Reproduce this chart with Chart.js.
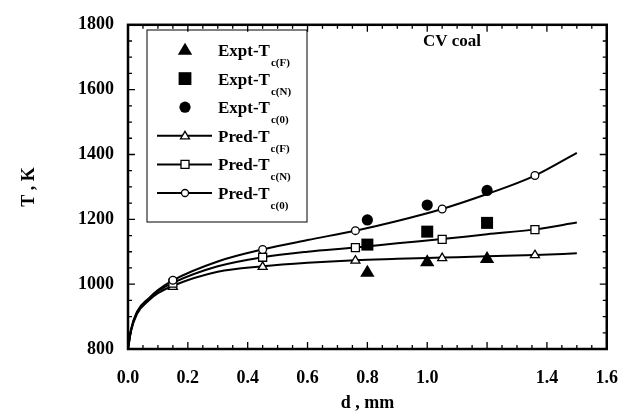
<!DOCTYPE html>
<html>
<head>
<meta charset="utf-8">
<script src="https://cdn.jsdelivr.net/npm/chart.js@4/dist/chart.umd.min.js"></script>
<style>
  html, body { margin: 0; padding: 0; background: #fff; }
  #wrap { width: 637px; height: 416px; }
</style>
</head>
<body>
<div id="wrap"><canvas id="tempChart" width="637" height="416"></canvas></div>
<script>
// ---- data ----
// measured points
const exptD = [0.8, 1.0, 1.2];
const exptTF = [1038, 1070, 1080];
const exptTN = [1122, 1162, 1189];
const exptT0 = [1198, 1244, 1289];

// predicted markers
const predD = [0.15, 0.45, 0.76, 1.05, 1.36];
const predTF = [993, 1055, 1074, 1082, 1091];
const predTN = [1003, 1083, 1113, 1138, 1168];
const predT0 = [1012, 1107, 1165, 1232, 1335];

// predicted curves (traced)
const curveD = [0, 0.01, 0.03, 0.07, 0.1, 0.15, 0.3, 0.45, 0.6, 0.76, 0.9, 1.05, 1.2, 1.36, 1.5];
const curveTF = [800, 855, 908, 950, 972, 995, 1038, 1055, 1066, 1074, 1078, 1082, 1086, 1090, 1095];
const curveTN = [800, 858, 912, 953, 978, 1004, 1055, 1083, 1100, 1113, 1126, 1139, 1154, 1169, 1190];
const curveT0 = [800, 860, 915, 957, 982, 1012, 1070, 1107, 1136, 1165, 1195, 1232, 1278, 1335, 1405];

const xTickLabels = ["0.0", "0.2", "0.4", "0.6", "0.8", "1.0", "", "1.4", "1.6"];
const yTickLabels = ["800", "1000", "1200", "1400", "1600", "1800"];

const legendNames = ["Expt-T", "Expt-T", "Expt-T", "Pred-T", "Pred-T", "Pred-T"];
const legendSubs = ["c(F)", "c(N)", "c(0)", "c(F)", "c(N)", "c(0)"];
const legendStyles = ["triangle", "rect", "circle", "triangle", "rect", "circle"];

const serif = "'Liberation Serif', 'DejaVu Serif', serif";

function pts(xs, ys) {
  return xs.map((x, i) => ({ x: x, y: ys[i] }));
}

// draw a marker shape (own helper so legend and plot look alike)
function drawMarker(ctx, style, x, y, r, filled) {
  ctx.beginPath();
  if (style === "triangle") {
    const h = r * 1.5;
    ctx.moveTo(x, y - h * 0.6);
    ctx.lineTo(x + r * 0.9, y + h * 0.4);
    ctx.lineTo(x - r * 0.9, y + h * 0.4);
    ctx.closePath();
  } else if (style === "rect") {
    ctx.rect(x - r * 0.8, y - r * 0.8, r * 1.6, r * 1.6);
  } else {
    ctx.arc(x, y, r * 0.7, 0, Math.PI * 2);
  }
  if (filled) {
    ctx.fillStyle = "#000";
    ctx.fill();
  } else {
    ctx.fillStyle = "#fff";
    ctx.fill();
    ctx.lineWidth = 1.3;
    ctx.strokeStyle = "#000";
    ctx.stroke();
  }
}

// frame + inward ticks on all four sides
const framePlugin = {
  id: "frameTicks",
  afterDraw(chart) {
    const ctx = chart.ctx;
    const a = chart.chartArea;
    const xs = chart.scales.x, ys = chart.scales.y;
    ctx.save();
    ctx.strokeStyle = "#000";
    ctx.lineWidth = 1.3;
    for (let i = 0; i <= 32; i++) {
      const v = i * 0.05;
      const px = xs.getPixelForValue(v);
      const len = i % 4 === 0 ? 7 : 4;
      ctx.beginPath();
      ctx.moveTo(px, a.bottom); ctx.lineTo(px, a.bottom - len);
      ctx.moveTo(px, a.top); ctx.lineTo(px, a.top + len);
      ctx.stroke();
    }
    for (let i = 0; i <= 20; i++) {
      const v = 800 + i * 50;
      const py = ys.getPixelForValue(v);
      const len = i % 4 === 0 ? 7 : 4;
      ctx.beginPath();
      ctx.moveTo(a.left, py); ctx.lineTo(a.left + len, py);
      ctx.moveTo(a.right, py); ctx.lineTo(a.right - len, py);
      ctx.stroke();
    }
    ctx.lineWidth = 2.5;
    ctx.strokeRect(a.left, a.top, a.right - a.left, a.bottom - a.top);

    // label inside plot
    ctx.fillStyle = "#000";
    ctx.font = "bold 17px " + serif;
    ctx.textAlign = "left";
    ctx.textBaseline = "middle";
    ctx.fillText("CV coal", 423, 42);

    // legend box
    const lx = 147, ly = 30, lw = 160, lh = 192;
    ctx.lineWidth = 1;
    ctx.strokeRect(lx, ly, lw, lh);
    legendNames.forEach((name, i) => {
      const cy = 50 + i * 28.6;
      const isPred = i >= 3;
      if (isPred) {
        ctx.lineWidth = 2;
        ctx.beginPath();
        ctx.moveTo(157, cy); ctx.lineTo(212, cy);
        ctx.stroke();
        drawMarker(ctx, legendStyles[i], 185, cy, 5, false);
      } else {
        drawMarker(ctx, legendStyles[i], 185, cy, 8, true);
      }
      ctx.fillStyle = "#000";
      ctx.textBaseline = "alphabetic";
      ctx.font = "bold 17px " + serif;
      ctx.fillText(name, 218, cy + 6);
      const w = ctx.measureText(name).width;
      ctx.font = "bold 11px " + serif;
      ctx.fillText(legendSubs[i], 218 + w + 1, cy + 16);
    });
    ctx.restore();
  }
};

// markers drawn with own helper so shapes match the legend
const markerPlugin = {
  id: "markers",
  afterDatasetsDraw(chart) {
    const ctx = chart.ctx;
    ctx.save();
    chart.data.datasets.forEach((ds, di) => {
      if (!ds.markerStyle) return;
      const meta = chart.getDatasetMeta(di);
      meta.data.forEach(el => {
        drawMarker(ctx, ds.markerStyle, el.x, el.y, ds.markerSize, ds.filled);
      });
    });
    ctx.restore();
  }
};

function curveSet(label, data) {
  return {
    label: label,
    data: pts(curveD, data),
    borderColor: "#000",
    borderWidth: 2,
    pointRadius: 0,
    cubicInterpolationMode: "monotone",
    showLine: true,
    fill: false
  };
}

function markerSet(label, xs, ys, style, size, filled) {
  return {
    label: label,
    data: pts(xs, ys),
    showLine: false,
    pointRadius: 0,
    markerStyle: style,
    markerSize: size,
    filled: filled
  };
}

const ctx = document.getElementById("tempChart").getContext("2d");

let tempChart = new Chart(ctx, {
  type: "scatter",
  data: {
    datasets: [
      curveSet("curve F", curveTF),
      curveSet("curve N", curveTN),
      curveSet("curve 0", curveT0),
      markerSet("Pred-Tc(F)", predD, predTF, "triangle", 5, false),
      markerSet("Pred-Tc(N)", predD, predTN, "rect", 5, false),
      markerSet("Pred-Tc(0)", predD, predT0, "circle", 5.5, false),
      markerSet("Expt-Tc(F)", exptD, exptTF, "triangle", 8, true),
      markerSet("Expt-Tc(N)", exptD, exptTN, "rect", 7.5, true),
      markerSet("Expt-Tc(0)", exptD, exptT0, "circle", 8, true)
    ]
  },
  options: {
    responsive: false,
    animation: false,
    layout: { padding: { top: 20, right: 27, left: 0, bottom: 0 } },
    plugins: {
      legend: { display: false },
      tooltip: { enabled: false }
    },
    scales: {
      x: {
        type: "linear",
        min: 0,
        max: 1.6,
        grid: { display: false, drawTicks: false },
        border: { display: false },
        ticks: {
          stepSize: 0.2,
          padding: 19,
          color: "#000",
          font: { family: serif, size: 18, weight: "bold" },
          callback: (v, i) => xTickLabels[i]
        },
        title: {
          display: true,
          text: "d , mm",
          color: "#000",
          font: { family: serif, size: 18, weight: "bold" },
          padding: { bottom: 2 }
        },
        afterFit: scale => { scale.height = 67; }
      },
      y: {
        type: "linear",
        min: 800,
        max: 1800,
        grid: { display: false, drawTicks: false },
        border: { display: false },
        ticks: {
          stepSize: 200,
          padding: 14,
          color: "#000",
          font: { family: serif, size: 18, weight: "bold" },
          callback: (v, i) => yTickLabels[i]
        },
        title: {
          display: true,
          text: "T , K",
          color: "#000",
          font: { family: serif, size: 18, weight: "bold" },
          padding: { top: 19 }
        },
        afterFit: scale => { scale.width = 128; }
      }
    }
  },
  plugins: [markerPlugin, framePlugin]
});
</script>
</body>
</html>
